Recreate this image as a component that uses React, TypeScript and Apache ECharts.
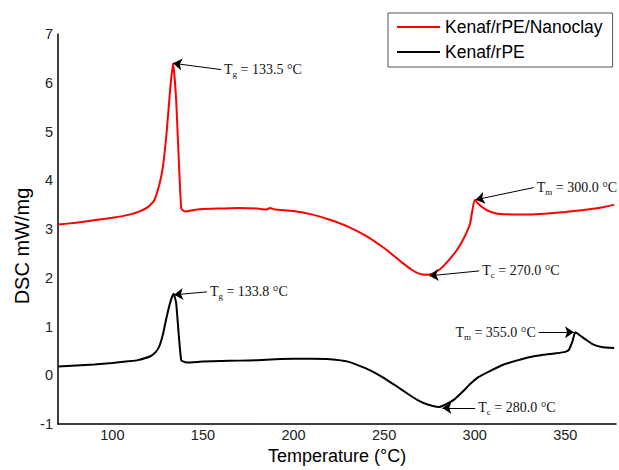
import React, { useEffect, useRef } from "react";
import * as echarts from "echarts";

const SERIES_NAMES = ["Kenaf/rPE/Nanoclay", "Kenaf/rPE"];

const RED_T = [70, 80, 90, 100, 110, 115, 120, 123, 126, 128, 130, 132, 133.5, 135.2, 138, 140, 145, 150, 160, 170, 180, 185, 187, 190, 200, 210, 220, 230, 240, 250, 255, 260, 265, 269, 273, 277, 281, 285, 290, 294, 297.5, 300, 303, 307, 312, 320, 330, 340, 350, 360, 370, 377];
const RED_V = [3.09, 3.13, 3.18, 3.23, 3.3, 3.36, 3.46, 3.58, 3.92, 4.3, 5.0, 5.9, 6.4, 5.66, 3.42, 3.36, 3.39, 3.41, 3.42, 3.43, 3.42, 3.4, 3.43, 3.4, 3.37, 3.3, 3.19, 3.05, 2.86, 2.61, 2.46, 2.31, 2.17, 2.09, 2.06, 2.09, 2.18, 2.33, 2.56, 2.81, 3.12, 3.6, 3.48, 3.38, 3.32, 3.3, 3.3, 3.32, 3.35, 3.39, 3.44, 3.5];

const BLACK_T = [70, 80, 90, 100, 110, 114, 121, 124, 126, 128, 130, 132, 133.8, 135.2, 138, 141, 150, 160, 170, 180, 190, 200, 210, 220, 230, 240, 245, 250, 257.5, 263, 268.5, 274, 280, 284, 289, 293, 297.5, 302, 307, 316, 323, 330, 338, 345, 350, 352, 354, 355.5, 358, 361, 365, 370, 377];
const BLACK_V = [0.18, 0.2, 0.22, 0.25, 0.29, 0.31, 0.39, 0.48, 0.6, 0.85, 1.2, 1.5, 1.67, 1.49, 0.31, 0.26, 0.28, 0.29, 0.3, 0.31, 0.33, 0.34, 0.34, 0.33, 0.28, 0.14, 0.05, -0.06, -0.24, -0.38, -0.51, -0.6, -0.65, -0.6, -0.49, -0.35, -0.18, -0.04, 0.06, 0.22, 0.3, 0.37, 0.42, 0.45, 0.48, 0.52, 0.7, 0.88, 0.82, 0.74, 0.64, 0.58, 0.56];

const X_TICK_LABELS = [100, 150, 200, 250, 300, 350];
const X_NAME = "Temperature (°C)";
const Y_NAME = "DSC mW/mg";

// annotations: series index, subscript, label value, tip (data), tail (data), text side
const ANNO_SERIES = [0, 0, 0, 1, 1, 1];
const ANNO_SUB = ["g", "m", "c", "g", "m", "c"];
const ANNO_TEXT = ["133.5", "300.0", "270.0", "133.8", "355.0", "280.0"];
const ANNO_TIP = [[133.5, 6.4], [300.5, 3.6], [275, 2.04], [134.1, 1.65], [354.8, 0.88], [282.2, -0.67]];
const ANNO_TAIL = [[160, 6.27], [332.6, 3.85], [302.5, 2.14], [152.2, 1.71], [335.4, 0.88], [300.3, -0.67]];
const ANNO_SIDE = ["right", "right", "right", "right", "left", "right"];

const SANS = "Liberation Sans, Arial, sans-serif";
const SERIF = "Liberation Serif, Times New Roman, serif";

export default function App() {
  const ref = useRef<HTMLDivElement>(null);
  useEffect(() => {
    if (!ref.current) return;
    const chart = echarts.init(ref.current, null, { renderer: "svg" });
    const colors = ["#ff0000", "#000000"];
    const pairs = [
      RED_T.map((t, i) => [t, RED_V[i]]),
      BLACK_T.map((t, i) => [t, BLACK_V[i]]),
    ];
    const series = SERIES_NAMES.map((name, si) => ({
      name,
      type: "line",
      data: pairs[si],
      symbol: "none",
      smooth: 0.15,
      lineStyle: { color: colors[si], width: 2 },
      itemStyle: { color: colors[si] },
      markLine: {
        silent: true,
        symbol: ["none", "arrow"],
        symbolSize: 9,
        label: { show: false },
        lineStyle: { color: "#000", width: 1, type: "solid" },
        data: ANNO_SERIES.map((s, i) => ({ s, i }))
          .filter((o) => o.s === si)
          .map((o) => [{ coord: ANNO_TAIL[o.i] }, { coord: ANNO_TIP[o.i] }]),
      },
    }));
    chart.setOption({
      animation: false,
      backgroundColor: "#fff",
      grid: { left: 58, right: 0, top: 34, bottom: 43 },
      legend: {
        data: SERIES_NAMES,
        orient: "vertical",
        left: 388,
        top: 13,
        icon: "rect",
        itemWidth: 43,
        itemHeight: 2,
        itemGap: 7,
        padding: [5, 10, 6, 9],
        borderColor: "#555",
        borderWidth: 1,
        textStyle: { fontSize: 17.5, fontFamily: SANS, color: "#000" },
      },
      xAxis: {
        type: "value",
        min: 70,
        max: 378,
        interval: 10,
        name: X_NAME,
        nameLocation: "middle",
        nameGap: 23,
        nameTextStyle: { fontSize: 18, fontFamily: SANS, color: "#000" },
        axisLine: { show: true, onZero: false, lineStyle: { color: "#000", width: 1.5 } },
        axisTick: { show: false },
        splitLine: { show: false },
        axisLabel: {
          fontSize: 14.5,
          fontFamily: SANS,
          color: "#222",
          margin: 3,
          formatter: (v: number) => (X_TICK_LABELS.includes(v) ? String(v) : ""),
        },
      },
      yAxis: {
        type: "value",
        min: -1,
        max: 7,
        interval: 1,
        axisLine: { show: true, onZero: false, lineStyle: { color: "#000", width: 1.5 } },
        axisTick: { show: false },
        splitLine: { show: false },
        axisLabel: { fontSize: 14.5, fontFamily: SANS, color: "#222", margin: 5 },
      },
      series,
    });
    const graphics: any[] = ANNO_TAIL.map((tail, i) => {
      const p = chart.convertToPixel({ gridIndex: 0 }, tail) as number[];
      const right = ANNO_SIDE[i] === "right";
      return {
        type: "text",
        x: right ? p[0] + 3 : p[0] - 3,
        y: p[1],
        silent: true,
        style: {
          text: `{t|T}{s|${ANNO_SUB[i]}}{t| = ${ANNO_TEXT[i]} °C}`,
          align: right ? "left" : "right",
          verticalAlign: "middle",
          fill: "#111",
          rich: {
            t: { fontSize: 14, fontFamily: SERIF, fill: "#111" },
            s: { fontSize: 9, fontFamily: SERIF, fill: "#111", padding: [9, 0, 0, 0] },
          },
        },
      };
    });
    graphics.push({
      type: "text",
      x: 22,
      y: 246,
      rotation: Math.PI / 2,
      silent: true,
      style: {
        text: Y_NAME,
        align: "center",
        verticalAlign: "middle",
        fontSize: 20,
        fontFamily: SANS,
        fill: "#000",
      },
    });
    chart.setOption({ graphic: graphics });
    return () => chart.dispose();
  }, []);
  return (
    <div
      ref={ref}
      style={{ position: "fixed", left: 0, top: 0, width: 619, height: 470, background: "#fff" }}
    />
  );
}
